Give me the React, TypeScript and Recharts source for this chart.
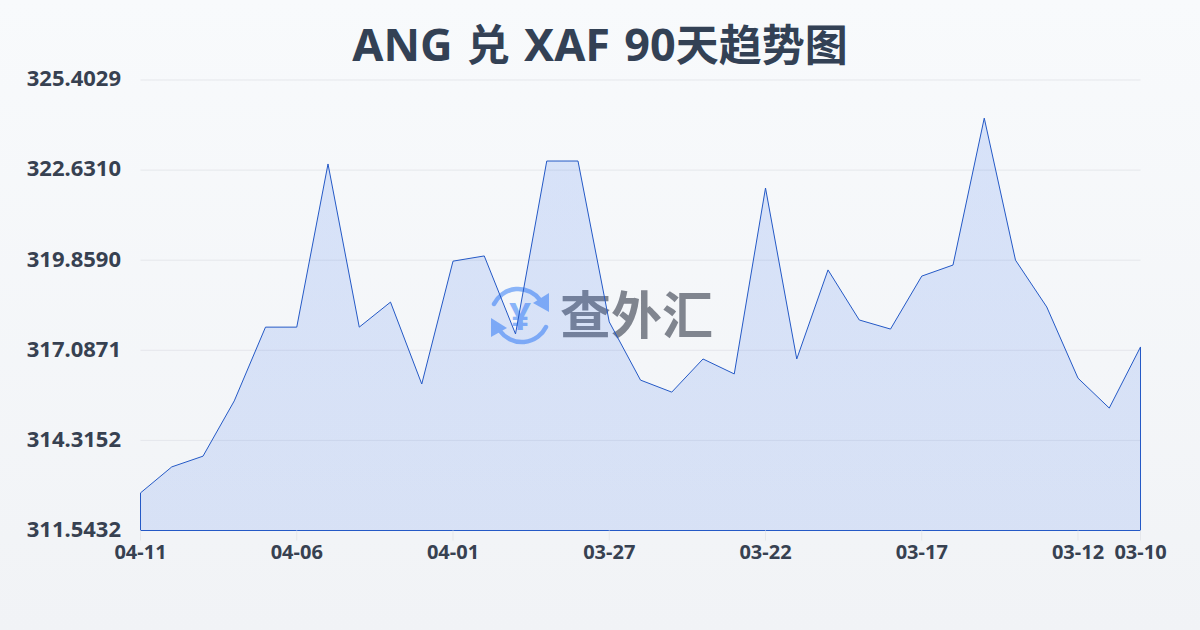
import { AreaChart, Area, XAxis, YAxis, CartesianGrid, ReferenceLine } from 'recharts'

const dates = [
  '04-11', '04-10', '04-09', '04-08', '04-07', '04-06', '04-05', '04-04', '04-03', '04-02', '04-01',
  '03-31', '03-30', '03-29', '03-28', '03-27', '03-26', '03-25', '03-24', '03-23', '03-22',
  '03-21', '03-20', '03-19', '03-18', '03-17', '03-16', '03-15', '03-14', '03-13', '03-12',
  '03-11', '03-10',
]
const rates = [
  312.7, 313.5, 313.83, 315.53, 317.8, 317.8, 322.82, 317.8, 318.57, 316.05, 319.83,
  319.99, 317.59, 322.91, 322.91, 317.96, 316.17, 315.8, 316.82, 316.36, 322.08,
  316.82, 319.56, 318.02, 317.74, 319.37, 319.71, 324.23, 319.86, 318.42, 316.23,
  315.31, 317.19,
]
const xTicks = ['04-11', '04-06', '04-01', '03-27', '03-22', '03-17', '03-12', '03-10']
const yTicks = [311.5432, 314.3152, 317.0871, 319.859, 322.631, 325.4029]

const FONT = '"Noto Sans", "Noto Sans CJK SC", sans-serif'
const LINE = '#2459c6'

const chartData = dates.map((date, i) => ({ date, rate: rates[i] }))

export default function App() {
  return (
    <div
      style={{
        position: 'absolute',
        left: 0,
        top: 0,
        width: 1200,
        height: 630,
        overflow: 'hidden',
        background: 'linear-gradient(180deg, #f8fafc 0%, #f1f3f6 100%)',
        fontFamily: FONT,
      }}
    >
      <div
        style={{
          position: 'absolute',
          left: 0,
          top: 12,
          width: 1200,
          textAlign: 'center',
          fontSize: 45,
          lineHeight: '64px',
          fontWeight: 700,
          wordSpacing: 2.5,
          color: '#334155',
        }}
      >
        ANG <span style={{ fontSize: 43 }}>兑</span> XAF 90<span style={{ fontSize: 43 }}>天趋势图</span>
      </div>

      {/* watermark, the chart draws over it */}
      <svg width={1200} height={630} style={{ position: 'absolute', left: 0, top: 0 }}>
        <g fill="none" stroke="#8ab4f8" strokeWidth={4.5} strokeLinecap="round">
          <path d="M 494 304 A 27 27 0 0 1 540 300" />
          <path d="M 546 327 A 27 27 0 0 1 500 331" />
        </g>
        <path d="M 549 293 L 549 312 L 533 303 Z" fill="#8ab4f8" />
        <path d="M 491 318 L 491 337 L 507 328 Z" fill="#8ab4f8" />
        <text x={520} y={330} textAnchor="middle" fontSize={38} fontWeight={700} fontFamily={FONT} fill="#8ab4f8">
          ¥
        </text>
        <text x={560} y={334} fontSize={51} fontWeight={700} fontFamily={FONT} fill="#80858f">
          查外汇
        </text>
      </svg>

      <div style={{ position: 'absolute', left: 0, top: 0 }}>
        <AreaChart
          width={1200}
          height={630}
          data={chartData}
          margin={{ top: 80, right: 59.5, bottom: 69.5, left: 0 }}
        >
          <defs>
            <linearGradient id="gradRate" x1="0" y1="0" x2="0" y2="1">
              <stop offset="0%" stopColor="#2563eb" stopOpacity={0.15} />
              <stop offset="100%" stopColor="#2563eb" stopOpacity={0.13} />
            </linearGradient>
          </defs>
          <CartesianGrid horizontal vertical={false} stroke="#e5e7eb" strokeWidth={1} />
          <XAxis
            dataKey="date"
            scale="point"
            height={30}
            ticks={xTicks}
            interval={0}
            axisLine={false}
            tickLine={{ stroke: '#e5e7eb' }}
            tickSize={10}
            tickMargin={4}
            tick={{ fill: '#374151', fontSize: 20, fontWeight: 700, fontFamily: FONT }}
          />
          <YAxis
            width={140.5}
            domain={[yTicks[0], yTicks[5]]}
            ticks={yTicks}
            tickFormatter={(v: number) => v.toFixed(4)}
            axisLine={false}
            tickLine={false}
            tickMargin={13.5}
            tick={{ fill: '#374151', fontSize: 22, fontWeight: 700, fontFamily: FONT, dy: -1.5 }}
          />
          <Area
            type="linear"
            dataKey="rate"
            stroke={LINE}
            strokeWidth={1}
            fill="url(#gradRate)"
            fillOpacity={1}
            dot={false}
            activeDot={false}
            isAnimationActive={false}
          />
          <ReferenceLine
            segment={[{ x: dates[0], y: yTicks[0] }, { x: dates[0], y: rates[0] }]}
            stroke={LINE}
          />
          <ReferenceLine
            segment={[{ x: dates[32], y: yTicks[0] }, { x: dates[32], y: rates[32] }]}
            stroke={LINE}
          />
          <ReferenceLine
            segment={[{ x: dates[0], y: yTicks[0] }, { x: dates[32], y: yTicks[0] }]}
            stroke={LINE}
          />
        </AreaChart>
      </div>
    </div>
  )
}
